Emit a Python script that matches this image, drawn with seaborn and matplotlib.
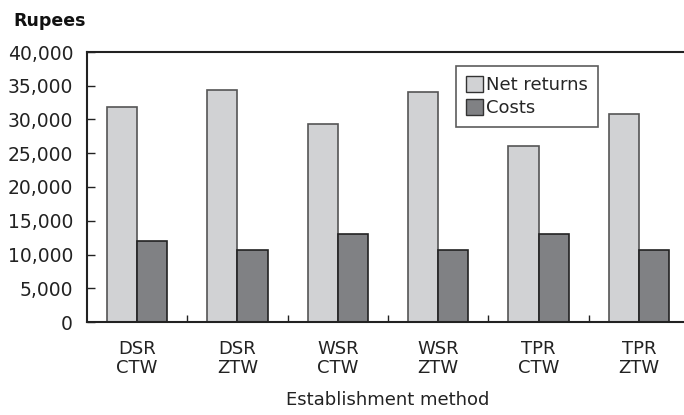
import matplotlib
matplotlib.use("Agg")
import matplotlib.pyplot as plt
import seaborn as sns
import pandas as pd
from matplotlib.ticker import FixedLocator, FuncFormatter

# Establishment methods (two-line labels) and values in rupees
methods = ["DSR\nCTW", "DSR\nZTW", "WSR\nCTW", "WSR\nZTW", "TPR\nCTW", "TPR\nZTW"]
net_returns = [31900, 34400, 29300, 34100, 26000, 30800]
costs = [12000, 10600, 13100, 10600, 13100, 10600]
series_names = ["Net returns", "Costs"]
y_ticks = [0, 5000, 10000, 15000, 20000, 25000, 30000, 35000, 40000]

df = pd.DataFrame({
    "method": methods * 2,
    "value": net_returns + costs,
    "series": [series_names[0]] * len(methods) + [series_names[1]] * len(methods),
})

sns.set_theme(style="white")
plt.rcParams["font.family"] = ["DejaVu Sans"]

fig = plt.figure(figsize=(6.84, 4.15), dpi=100)
ax = fig.add_axes([87 / 684, 93 / 415, 602 / 684, 270 / 415])

fills = {"Net returns": "#d1d2d4", "Costs": "#808184"}
sns.barplot(data=df, x="method", y="value", hue="series", order=methods,
            hue_order=series_names, palette=fills, width=0.6, gap=0,
            dodge=True, ax=ax, saturation=1, errorbar=None)

edges = {"Net returns": "#555555", "Costs": "#222222"}
for container, name in zip(ax.containers, series_names):
    for bar in container:
        bar.set_edgecolor(edges[name])
        bar.set_linewidth(1.2)

ax.set_xlim(-0.5, 5.5)
ax.set_ylim(0, 40000)
ax.yaxis.set_major_locator(FixedLocator(y_ticks))
ax.yaxis.set_major_formatter(FuncFormatter(lambda v, p: f"{int(v):,}"))
ax.tick_params(axis="y", direction="in", length=6, width=1, color="#222222",
               labelsize=13.5, pad=10, left=True, labelcolor="#222222")
ax.set_xticks(range(len(methods)))
ax.set_xticklabels(methods, fontsize=13, color="#222222", linespacing=1.05)
ax.tick_params(axis="x", which="major", length=0, pad=13)
ax.xaxis.set_minor_locator(FixedLocator([0.5, 1.5, 2.5, 3.5, 4.5]))
ax.tick_params(axis="x", which="minor", direction="in", length=5, width=1,
               color="#222222", bottom=True)

for side in ["left", "top", "bottom", "right"]:
    ax.spines[side].set_visible(True)
    ax.spines[side].set_color("#222222")
    ax.spines[side].set_linewidth(1.5)

ax.set_xlabel("Establishment method", fontsize=13, color="#222222", labelpad=10)
ax.set_ylabel("")

leg = ax.legend(loc="upper left", bbox_to_anchor=(369 / 602, 1 - 14 / 270),
                frameon=True, fancybox=False, fontsize=13, handlelength=0.95,
                handleheight=0.95, handletextpad=0.18, labelspacing=0.3,
                borderpad=0.55, borderaxespad=0)
leg.get_frame().set_edgecolor("#333333")
leg.get_frame().set_linewidth(1.2)
for h, name in zip(leg.legend_handles, series_names):
    h.set_edgecolor("#333333")
    h.set_linewidth(1.0)

fig.text(13 / 684, 1 - 21 / 415, "Rupees", fontsize=12.5, fontweight="bold",
         color="#111111", va="center", ha="left")

fig.savefig("out.png", dpi=100)
